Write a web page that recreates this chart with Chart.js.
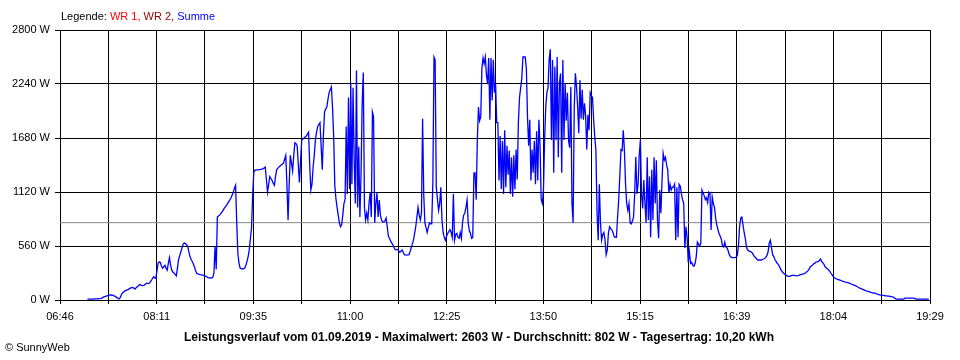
<!DOCTYPE html>
<html>
<head>
<meta charset="utf-8">
<script src="https://cdn.jsdelivr.net/npm/chart.js@4/dist/chart.umd.min.js"></script>
<style>
  html, body { margin: 0; padding: 0; background: #fff; }
  #wrap { position: relative; width: 960px; height: 360px; overflow: hidden; font-family: "Liberation Sans", Arial, sans-serif; }
  #c { position: absolute; left: 0; top: 0; }
  .txt { position: absolute; font-size: 11px; line-height: 13px; white-space: nowrap; color: #000; }
  #legend { left: 61px; top: 10px; }
  #title { left: 0; width: 958px; text-align: center; top: 330px; font-weight: bold; font-size: 12px; line-height: 14px; }
  #copy { left: 5px; top: 341px; }
</style>
</head>
<body>
<div id="wrap">
  <canvas id="c" width="960" height="360"></canvas>
  <div class="txt" id="legend"><span>Legende: </span><span style="color:#ff0000">WR 1, </span><span style="color:#900000">WR 2, </span><span style="color:#0000ff">Summe</span></div>
  <div class="txt" id="title">Leistungsverlauf vom 01.09.2019 - Maximalwert: 2603 W - Durchschnitt: 802 W - Tagesertrag: 10,20 kWh</div>
  <div class="txt" id="copy">© SunnyWeb</div>
</div>
<script>
// ---- data ----
const xTickLabels = ['06:46','08:11','09:35','11:00','12:25','13:50','15:15','16:39','18:04','19:29'];
const yTickLabels = ['0 W','560 W','1120 W','1680 W','2240 W','2800 W'];
const yTickValues = [0, 560, 1120, 1680, 2240, 2800];
const averageW = 802;
const sampleStart = '07:10';   // first logged minute
const sampleStepMin = 1;       // one value per minute
const summeW = [
  // 07:10 - 10:45
  10,10,10,10,10,10,12,12,12,12,15,15,18,22,30,34,38,42,45,48,
  52,52,50,45,40,32,25,15,12,30,60,75,85,95,100,105,110,118,125,128,
  130,120,115,130,140,150,160,155,150,152,155,165,175,172,170,185,200,220,240,230,
  225,300,380,395,390,350,330,345,360,330,310,380,440,360,310,290,280,265,250,330,
  420,460,500,540,580,590,585,570,560,500,450,420,400,370,340,300,275,270,265,262,
  260,259,258,252,245,238,230,229,228,230,235,280,560,320,860,870,880,895,910,930,
  950,965,980,1000,1020,1040,1060,1090,1120,1160,1190,800,480,380,330,325,320,325,330,360,
  400,450,520,640,750,1100,1330,1345,1350,1350,1350,1352,1355,1358,1360,1370,1380,1250,1120,1200,
  1280,1260,1240,1210,1190,1280,1350,1365,1380,1390,1400,1410,1420,1460,1500,1200,830,1200,1500,1420,
  1340,1500,1630,1620,1600,1400,1220,1450,1660,1670,1680,1690,1700,1720,1740,1400,1140,1200,1380,1500,
  1660,1740,1800,1820,1840,1600,1350,1700,1950,1980,2000,2080,2150,2180,2210,2000,
  // 10:46 - 11:29
  1700,1190,1050,960,880,800,760,780,880,1000,
  1040,1800,1100,2100,1150,2250,1200,2200,1450,1000,
  2380,960,1590,860,1300,2040,2360,960,830,900,
  830,1000,1110,860,1950,1900,800,1000,1110,860,
  1037,880,830,810,
  // 11:30 - 12:49
  810,820,850,760,660,640,610,590,570,545,520,522,525,510,495,505,520,495,470,468,
  465,467,470,500,540,580,620,690,760,860,960,880,830,900,1880,1100,800,750,700,750,
  800,790,790,1220,2520,2490,1170,1050,930,1000,1170,830,700,650,620,660,690,710,730,700,
  650,1100,620,680,690,650,640,700,640,800,880,900,960,1037,800,720,690,640,650,1317,
  // 12:50 - 14:39
  1320,1040,1660,2000,1860,1900,2400,2510,2450,2520,
  2330,2250,2510,1870,2510,2070,2490,2150,2250,1840,
  1840,1240,1700,1150,1650,1100,1760,1170,1600,1300,
  1550,1100,1480,1070,1500,1150,1560,1250,1840,2100,
  2200,2300,2520,2520,2520,2400,1900,1600,1870,1240,
  1560,1320,1650,1200,1750,1240,1870,1600,1040,1000,
  1140,1660,2000,2150,2200,2500,2600,1660,2490,1320,
  2420,1660,2520,1480,2250,2350,1320,2490,1660,2250,
  1860,2150,1650,1580,2210,1000,800,2000,2350,2210,
  2000,1730,2280,1880,2180,1870,2040,1900,1560,1920,
  1760,2150,2120,2100,1870,1690,1550,900,620,1200,
  // 14:40 - 19:28
  800,620,680,700,620,470,520,700,760,740,
  726,700,660,650,650,860,1040,1300,1560,1550,
  1760,1550,1200,1000,930,1000,800,790,820,860,
  1100,1483,1100,1200,1500,1660,1100,950,1244,1000,
  800,1480,830,1280,650,1350,830,1480,1000,1450,
  830,640,1140,900,1244,1520,1450,1480,1400,1350,
  1110,1200,1140,1170,1170,1200,620,1170,650,1200,
  1180,1100,1040,1000,540,760,650,390,500,380,
  390,360,350,380,450,600,580,560,590,1140,
  1110,1080,1040,1060,1010,1120,1110,726,1070,1000,
  960,850,780,730,690,660,630,560,550,600,
  550,540,510,470,450,440,440,440,440,445,
  460,560,760,850,860,780,700,640,550,520,
  510,505,500,490,470,450,440,425,415,415,
  415,415,420,425,430,445,460,500,590,620,
  540,470,450,420,400,380,370,345,320,300,
  285,275,265,255,248,245,245,250,255,255,
  255,252,250,252,255,260,265,268,272,276,
  282,292,305,320,345,352,362,375,382,392,
  395,400,410,425,400,385,370,345,335,325,
  310,300,280,262,245,232,225,218,213,210,
  207,202,196,192,188,185,183,180,176,171,
  166,160,156,151,146,140,132,125,120,115,
  110,105,100,95,92,90,85,80,77,75,
  72,70,65,60,56,52,50,50,47,45,
  43,42,41,40,38,35,32,30,20,12,
  10,10,10,10,10,10,10,20,20,20,
  20,20,20,20,20,20,15,10,10,10,
  10,10,10,10,10,10,10,10,10
];

// ---- helpers ----
function toMin(s) { const p = s.split(':').map(Number); return p[0] * 60 + p[1]; }
const xMin = toMin(xTickLabels[0]);
const xMax = toMin(xTickLabels[xTickLabels.length - 1]);
const nGrid = (xTickLabels.length - 1) * 2;
const start = toMin(sampleStart);
const summePoints = summeW.map((w, i) => ({ x: start + i * sampleStepMin, y: w }));
const avgPoints = [{ x: xMin, y: averageW }, { x: xMax, y: averageW }];

const font = { family: '"Liberation Sans", Arial, sans-serif', size: 11 };

new Chart(document.getElementById('c'), {
  type: 'line',
  data: {
    datasets: [
      { label: 'Summe', data: summePoints, borderColor: '#0000ff', borderWidth: 1.3, pointRadius: 0, tension: 0, fill: false },
      { label: 'Durchschnitt', data: avgPoints, borderColor: '#888888', borderWidth: 1, pointRadius: 0, fill: false }
    ]
  },
  options: {
    responsive: false,
    animation: false,
    devicePixelRatio: 1,
    layout: { padding: { top: 30, right: 30, left: 0, bottom: 0 } },
    plugins: { legend: { display: false }, tooltip: { enabled: false }, title: { display: false } },
    scales: {
      x: {
        type: 'linear',
        min: xMin, max: xMax,
        afterBuildTicks: (s) => {
          s.ticks = Array.from({ length: nGrid + 1 }, (_, k) => ({ value: xMin + k * (xMax - xMin) / nGrid }));
        },
        afterFit: (s) => { s.height = 60; },
        grid: { color: '#000', lineWidth: 1, tickLength: 4, drawTicks: true },
        border: { display: true, color: '#000', width: 1 },
        ticks: {
          autoSkip: false, maxRotation: 0, minRotation: 0, padding: 6, color: '#000', font: font,
          callback: (v, i) => (i % 2 === 0 ? xTickLabels[i / 2] : '')
        }
      },
      y: {
        type: 'linear',
        min: yTickValues[0], max: yTickValues[yTickValues.length - 1],
        afterBuildTicks: (s) => { s.ticks = yTickValues.map(v => ({ value: v })); },
        afterFit: (s) => { s.width = 60; },
        grid: { color: '#000', lineWidth: 1, tickLength: 5, drawTicks: true },
        border: { display: true, color: '#000', width: 1 },
        ticks: {
          padding: 5, color: '#000', font: font,
          callback: (v, i) => yTickLabels[i]
        }
      }
    }
  }
});
</script>
</body>
</html>
